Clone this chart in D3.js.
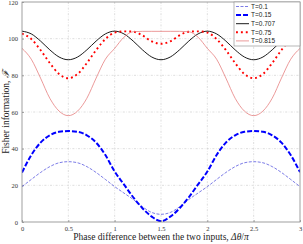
<!DOCTYPE html>
<html>
<head>
<meta charset="utf-8">
<script src="https://cdn.jsdelivr.net/npm/d3@7"></script>
<style>
  body { margin: 0; background: #fff; }
  svg { display: block; }
  .tick text { font-family: "Liberation Serif", serif; font-size: 6.5px; fill: #333; }
  .grid line { stroke: #c8c8c8; stroke-width: 0.6; stroke-dasharray: 2,1.5,0.6,1.5; }
</style>
</head>
<body>
<svg id="chart" width="303" height="244"></svg>
<script>
// phase difference, in units of pi
var phase = [0,0.1,0.2,0.3,0.4,0.5,0.6,0.7,0.8,0.9,1,1.1,1.2,1.3,1.4,1.5,1.6,1.7,1.8,1.9,2,2.1,2.2,2.3,2.4,2.5,2.6,2.7,2.8,2.9,3]

var f010 = [19.3,23.2,27.0,30.2,32.3,32.9,32.3,30.2,27.0,23.2,19.3,15.8,12.3,8.3,5.2,4.2,5.2,8.3,12.3,15.8,19.3,23.2,27.0,30.2,32.3,32.9,32.3,30.2,27.0,23.2,19.3]
var f015 = [27.0,36.5,43.3,47.3,49.2,49.6,49.2,47.3,43.3,36.5,27.5,20.5,13.5,7.5,2.9,0.4,2.9,7.5,13.5,20.5,27.5,36.5,43.3,47.3,49.2,49.6,49.2,47.3,43.3,36.5,27.2]
var f0707 = [104.1,102.6,98.7,93.9,90.0,88.5,90.0,93.9,98.7,102.6,104.1,102.6,98.7,93.9,90.0,88.5,90.0,93.9,98.7,102.6,104.1,102.6,98.7,93.9,90.0,88.5,90.0,93.9,98.7,102.6,104.1]
var f075 = [102.8,99.8,93.8,86.7,80.7,78.4,80.7,86.7,93.8,99.8,103.3,104.0,103.8,101.8,98.5,97.2,98.5,101.8,103.8,104.0,103.3,99.8,93.8,86.7,80.7,78.4,80.7,86.7,93.8,99.8,102.5]
var f0815 = [94.7,88.8,78.5,67.5,60.5,58.0,60.5,67.5,78.5,88.8,94.7,100.8,103.8,104.0,104.0,104.0,104.0,104.0,103.8,100.8,94.7,88.8,78.5,67.5,60.5,58.0,60.5,67.5,78.5,88.8,94.7]

var labels = ["T=0.1","T=0.15","T=0.707","T=0.75","T=0.815"]
var xTicks = [0,0.5,1,1.5,2,2.5,3]
var yTicks = [0,20,40,60,80,100,120]

var series = [
  {name: labels[0], values: f010, color: "#5a5ae0", width: 0.8, dash: "3,1.5"},
  {name: labels[1], values: f015, color: "#0000ff", width: 2, dash: "5,2"},
  {name: labels[2], values: f0707, color: "#000000", width: 0.9, dash: null},
  {name: labels[3], values: f075, color: "#ff0000", width: 1.9, dash: "1.9,3"},
  {name: labels[4], values: f0815, color: "#e68080", width: 0.8, dash: null}
]

var svg = d3.select("#chart")
var pLeft = 22, pRight = 300, pTop = 2, pBottom = 222

var x = d3.scaleLinear().domain([0, 3]).range([pLeft, pRight])
var y = d3.scaleLinear().domain([0, 120]).range([pBottom, pTop])

// grid
svg.append("g").attr("class", "grid")
    .selectAll("line")
    .data(xTicks.slice(1, -1))
    .enter()
    .append("line")
    .attr("x1", d => x(d)).attr("x2", d => x(d))
    .attr("y1", pTop).attr("y2", pBottom)
svg.append("g").attr("class", "grid")
    .selectAll("line")
    .data(yTicks.slice(1, -1))
    .enter()
    .append("line")
    .attr("x1", pLeft).attr("x2", pRight)
    .attr("y1", d => y(d)).attr("y2", d => y(d))

// axes
svg.append("g")
    .attr("transform", "translate(0," + pBottom + ")")
    .call(d3.axisBottom(x).tickValues(xTicks).tickSize(-2).tickPadding(4).tickFormat(d3.format("")))
    .call(g => g.select(".domain").remove())
svg.append("g")
    .attr("transform", "translate(" + pLeft + ",0)")
    .call(d3.axisLeft(y).tickValues(yTicks).tickSize(-2).tickPadding(4))
    .call(g => g.select(".domain").remove())
svg.selectAll(".tick line").attr("stroke", "#777").attr("stroke-width", 0.6)

var clip = svg.append("clipPath").attr("id", "clip")
clip.append("rect").attr("x", pLeft).attr("y", pTop).attr("width", pRight - pLeft).attr("height", pBottom - pTop)

var line = d3.line()
    .x((d, i) => x(phase[i]))
    .y(d => y(d))
    .curve(d3.curveMonotoneX)

svg.append("g").attr("clip-path", "url(#clip)")
    .selectAll("path")
    .data(series)
    .enter()
    .append("path")
    .attr("d", d => line(d.values))
    .attr("fill", "none")
    .attr("stroke", d => d.color)
    .attr("stroke-width", d => d.width)
    .attr("stroke-dasharray", d => d.dash)

// frame
svg.append("rect")
    .attr("x", pLeft).attr("y", pTop)
    .attr("width", pRight - pLeft).attr("height", pBottom - pTop)
    .attr("fill", "none").attr("stroke", "#888").attr("stroke-width", 0.8)

// legend
var lg = svg.append("g").attr("transform", "translate(234," + pTop + ")")
lg.append("rect")
    .attr("width", pRight - 234).attr("height", 44)
    .attr("fill", "#fff").attr("stroke", "#888").attr("stroke-width", 0.6)
var item = lg.selectAll("g.item")
    .data(series)
    .enter()
    .append("g")
    .attr("transform", (d, i) => "translate(0," + (4.5 + i * 8.6) + ")")
item.append("line")
    .attr("x1", 2).attr("x2", 15)
    .attr("stroke", d => d.color)
    .attr("stroke-width", d => d.width)
    .attr("stroke-dasharray", d => d.dash)
item.append("text")
    .attr("x", 17).attr("y", 2.3)
    .text(d => d.name)
    .style("font-family", "'Liberation Sans', sans-serif")
    .style("font-size", "6.5px")
    .style("fill", "#222")

// axis titles
svg.append("text")
    .attr("x", (pLeft + pRight) / 2).attr("y", 240)
    .attr("text-anchor", "middle")
    .style("font-family", "'Liberation Serif', serif")
    .style("font-size", "9.5px")
    .style("fill", "#222")
    .html("Phase difference between the two inputs, <tspan font-style='italic'>Δθ</tspan>/<tspan font-style='italic'>π</tspan>")
svg.append("text")
    .attr("transform", "translate(9," + ((pTop + pBottom) / 2) + ") rotate(-90)")
    .attr("text-anchor", "middle")
    .style("font-family", "'Liberation Serif', serif")
    .style("font-size", "9.5px")
    .style("fill", "#222")
    .html("Fisher information, <tspan font-style='italic'>ℱ</tspan>")
</script>
</body>
</html>
